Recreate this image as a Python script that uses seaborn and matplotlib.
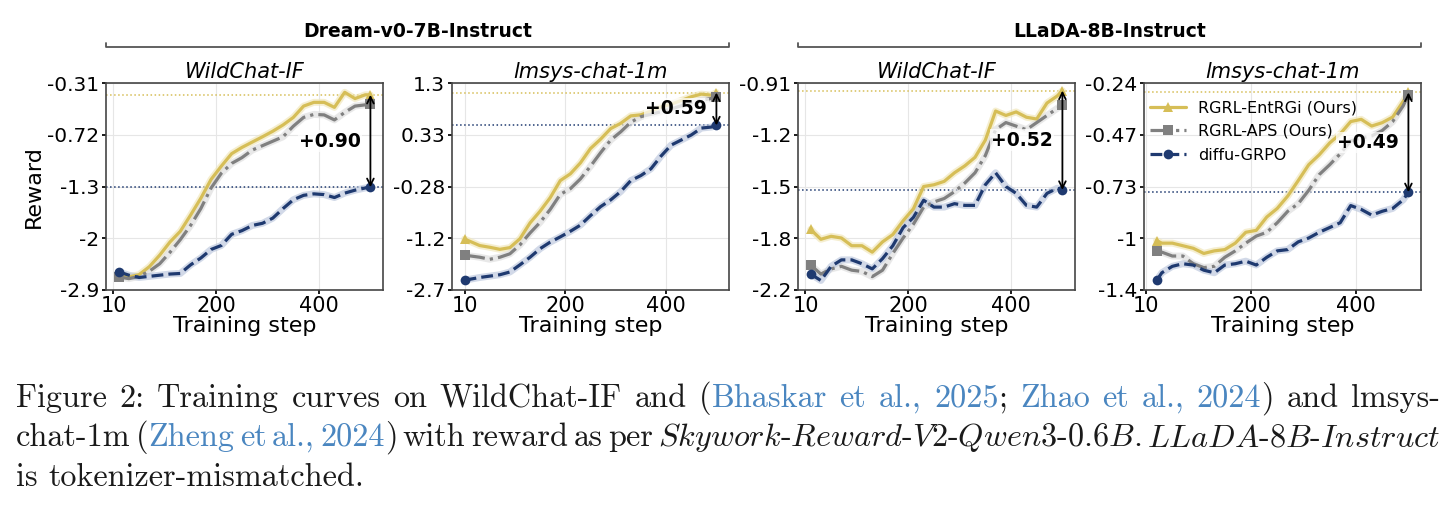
import numpy as np
import seaborn as sns
import matplotlib.pyplot as plt
from matplotlib.lines import Line2D

# ---- data (reward values) ----
GROUPS = ['Dream-v0-7B-Instruct', 'LLaDA-8B-Instruct']
DATASETS = ['WildChat-IF', 'lmsys-chat-1m', 'WildChat-IF', 'lmsys-chat-1m']
METHODS = ['RGRL-EntRGi (Ours)', 'RGRL-APS (Ours)', 'diffu-GRPO']
GAPS = ['+0.90', '+0.59', '+0.52', '+0.49']

START = [10, 0, 10, 20]
STEPS = [30, 50, 70, 90, 110, 130, 150, 170, 190, 210, 230, 250, 270, 290,
         310, 330, 350, 370, 390, 410, 430, 450, 470, 490, 500]

YTICKS = [
    [-0.31, -0.72, -1.3, -2, -2.9],
    [1.3, 0.33, -0.28, -1.2, -2.7],
    [-0.91, -1.2, -1.5, -1.8, -2.2],
    [-0.24, -0.47, -0.73, -1, -1.4],
]

ENTRGI = [
    [-2.62, -2.68, -2.64, -2.50, -2.30, -2.07, -1.91, -1.69, -1.46, -1.22, -1.07, -0.93, -0.86,
     -0.80, -0.74, -0.69, -0.64, -0.58, -0.49, -0.46, -0.46, -0.50, -0.38, -0.43, -0.40, -0.40],
    [-1.23, -1.42, -1.47, -1.53, -1.48, -1.22, -0.93, -0.72, -0.48, -0.21, -0.13, 0.0, 0.17,
     0.28, 0.45, 0.55, 0.69, 0.71, 0.78, 0.86, 0.91, 0.98, 1.05, 1.10, 1.08, 1.13],
    [-1.75, -1.81, -1.79, -1.80, -1.86, -1.86, -1.91, -1.83, -1.78, -1.70, -1.63, -1.50, -1.49,
     -1.47, -1.42, -1.38, -1.33, -1.23, -1.065, -1.09, -1.07, -1.10, -1.11, -1.02, -0.98, -0.95],
    [-1.02, -1.04, -1.04, -1.06, -1.08, -1.12, -1.10, -1.09, -1.04, -0.97, -0.96, -0.89, -0.845,
     -0.78, -0.70, -0.62, -0.57, -0.51, -0.465, -0.41, -0.40, -0.43, -0.415, -0.39, -0.32, -0.28],
]
APS = [
    [-2.68, -2.71, -2.67, -2.58, -2.45, -2.25, -2.03, -1.83, -1.60, -1.32, -1.15, -1.04, -0.975,
     -0.89, -0.84, -0.79, -0.74, -0.65, -0.58, -0.556, -0.56, -0.60, -0.54, -0.49, -0.48, -0.47],
    [-1.70, -1.76, -1.82, -1.76, -1.66, -1.40, -1.11, -0.92, -0.69, -0.42, -0.32, -0.19, -0.04,
     0.12, 0.27, 0.39, 0.57, 0.675, 0.72, 0.77, 0.82, 0.88, 0.94, 0.98, 1.02, 1.04],
    [-2.01, -2.08, -2.04, -2.02, -2.05, -2.06, -2.10, -2.05, -1.92, -1.80, -1.72, -1.62, -1.59,
     -1.57, -1.53, -1.48, -1.42, -1.32, -1.17, -1.13, -1.15, -1.17, -1.13, -1.09, -1.05, -1.03],
    [-1.10, -1.11, -1.14, -1.14, -1.20, -1.23, -1.22, -1.15, -1.10, -1.04, -0.99, -0.97, -0.92,
     -0.86, -0.82, -0.75, -0.67, -0.62, -0.565, -0.50, -0.485, -0.475, -0.45, -0.41, -0.34, -0.29],
]
GRPO = [
    [-2.59, -2.65, -2.69, -2.67, -2.65, -2.63, -2.62, -2.47, -2.35, -2.20, -2.13, -1.95, -1.90,
     -1.83, -1.80, -1.73, -1.60, -1.48, -1.42, -1.40, -1.41, -1.45, -1.39, -1.35, -1.32, -1.31],
    [-2.43, -2.35, -2.31, -2.27, -2.19, -1.98, -1.76, -1.51, -1.32, -1.18, -1.08, -0.97, -0.80,
     -0.64, -0.52, -0.37, -0.21, -0.15, -0.07, 0.08, 0.21, 0.27, 0.33, 0.46, 0.48, 0.51],
    [-2.08, -2.13, -2.02, -1.97, -1.97, -2.00, -2.04, -1.96, -1.86, -1.74, -1.68, -1.58, -1.62,
     -1.62, -1.60, -1.61, -1.61, -1.49, -1.42, -1.50, -1.54, -1.61, -1.62, -1.54, -1.51, -1.52],
    [-1.33, -1.27, -1.22, -1.20, -1.21, -1.25, -1.27, -1.21, -1.20, -1.18, -1.21, -1.15, -1.10,
     -1.09, -1.03, -1.00, -0.97, -0.945, -0.92, -0.83, -0.85, -0.88, -0.86, -0.845, -0.80, -0.76],
]

BLUE_CITE = '#4A86C0'
CAPTION = [
    [[('Figure', 'k')], [('2:', 'k')], [('Training', 'k')], [('curves', 'k')], [('on', 'k')],
     [('WildChat-IF', 'k')], [('and', 'k')], [('(', 'k'), ('Bhaskar', BLUE_CITE)],
     [('et', BLUE_CITE)], [('al.,', BLUE_CITE)], [('2025', BLUE_CITE), (';', 'k')],
     [('Zhao', BLUE_CITE)], [('et', BLUE_CITE)], [('al.,', BLUE_CITE)],
     [('2024', BLUE_CITE), (')', 'k')], [('and', 'k')], [('lmsys-', 'k')]],
    [[('chat-1m', 'k')], [('(', 'k'), ('Zheng', BLUE_CITE)], [('et', BLUE_CITE)],
     [('al.,', BLUE_CITE)], [('2024', BLUE_CITE), (')', 'k')], [('with', 'k')], [('reward', 'k')],
     [('as', 'k')], [('per', 'k')],
     [(r'$\mathit{Skywork}$-$\mathit{Reward}$-$\mathit{V2}$-$\mathit{Qwen3}$-$\mathit{0.6B.}$', 'k')],
     [(r'$\mathit{LLaDA}$-$\mathit{8B}$-$\mathit{Instruct}$', 'k')]],
    [[('is', 'k')], [('tokenizer-mismatched.', 'k')]],
]

COLORS = ['#D6BE57', '#808080', '#1F3A70']
BANDS = ['#F0E6B8', '#DDDDDD', '#BAC6DC']
STYLES = ['-', '-.', '--']
MARKERS = ['^', 's', 'o']

sns.set_theme(style='whitegrid', rc={
    'axes.edgecolor': '#454545', 'axes.linewidth': 1.2, 'grid.color': '#E6E6E6',
    'grid.linewidth': 0.8, 'xtick.bottom': True, 'ytick.left': True,
    'xtick.major.size': 3, 'ytick.major.size': 3, 'xtick.color': 'black',
    'ytick.color': 'black', 'xtick.major.pad': 2, 'ytick.major.pad': 2,
    'text.color': 'black', 'axes.labelcolor': 'black',
})
plt.rcParams['font.family'] = ['DejaVu Sans']
plt.rcParams['mathtext.fontset'] = 'cm'

W, H = 1449, 511
fig = plt.figure(figsize=(W / 100, H / 100), dpi=100)
fig.patch.set_facecolor('white')


def piecewise_scale(ticks):
    t = np.array(sorted(ticks), dtype=float)
    p = np.arange(len(t), dtype=float)

    def fwd(v):
        v = np.asarray(v, dtype=float)
        out = np.interp(v, t, p)
        out = np.where(v < t[0], (v - t[0]) / (t[1] - t[0]), out)
        return np.where(v > t[-1], p[-1] + (v - t[-1]) / (t[-1] - t[-2]), out)

    def inv(y):
        y = np.asarray(y, dtype=float)
        out = np.interp(y, p, t)
        out = np.where(y < 0, t[0] + y * (t[1] - t[0]), out)
        return np.where(y > p[-1], t[-1] + (y - p[-1]) * (t[-1] - t[-2]), out)

    return fwd, inv


lefts = [106, 452, 798, 1144]
ax_w, ax_top, ax_bot = 277, 83.5, 289.5
axes = []
for k in range(4):
    ax = fig.add_axes([lefts[k] / W, (H - ax_bot) / H, ax_w / W, (ax_bot - ax_top) / H])
    axes.append(ax)
    fwd, inv = piecewise_scale(YTICKS[k])
    ax.set_yscale('function', functions=(fwd, inv))
    x = [START[k]] + STEPS
    series = [ENTRGI[k], APS[k], GRPO[k]]
    for i, y in enumerate(series):
        sns.lineplot(x=x, y=y, ax=ax, color=BANDS[i], lw=5, alpha=0.65,
                     errorbar=None, legend=False, zorder=2)
    for i, y in enumerate(series):
        sns.lineplot(x=x, y=y, ax=ax, color=COLORS[i], lw=2.3, ls=STYLES[i],
                     marker=MARKERS[i], markevery=[0, -1], markersize=7,
                     markeredgewidth=0, errorbar=None, legend=False, zorder=3)
    top, low = ENTRGI[k][-1], GRPO[k][-1]
    ax.axhline(top, color=COLORS[0], ls=':', lw=1.1, zorder=1)
    ax.axhline(low, color=COLORS[2], ls=':', lw=1.1, zorder=1)
    ax.annotate('', xy=(500, top), xytext=(500, low),
                arrowprops=dict(arrowstyle='<->', color='black', lw=1.3,
                                shrinkA=0, shrinkB=0), zorder=5)
    ymid = inv((fwd(top) + fwd(low)) / 2)
    ax.text(482, float(ymid), GAPS[k], ha='right', va='center', fontsize=13.5,
            fontweight='bold', zorder=6,
            bbox=dict(facecolor='white', alpha=0.75, edgecolor='none', pad=1))

    ax.set_ylim(min(YTICKS[k]), max(YTICKS[k]))
    ax.set_yticks(YTICKS[k])
    ax.set_yticklabels([f'{v:g}' for v in YTICKS[k]], fontsize=14.5)
    ax.minorticks_off()
    ax.set_xticks([0, 200, 400])
    ax.set_xticklabels(['10', '200', '400'], fontsize=15)
    ax.set_xlabel('Training step', fontsize=16, labelpad=0)
    ax.set_ylabel('Reward' if k == 0 else '', fontsize=16, labelpad=2)
    ax.set_title(DATASETS[k], fontsize=15, fontstyle='italic', pad=4)
    ax.grid(True)

handles = [Line2D([], [], color=COLORS[i], lw=2.3, ls=STYLES[i], marker=MARKERS[i],
                  markersize=7, markeredgewidth=0) for i in range(3)]
axes[3].legend(handles, METHODS, loc='upper left', bbox_to_anchor=(0.0, 0.95),
               borderaxespad=0, frameon=False, fontsize=11.5, handlelength=2.2,
               handletextpad=0.8, labelspacing=0.55)

# model group headers with brackets
spans = [(106, 729), (798, 1421)]
for name, (x0, x1) in zip(GROUPS, spans):
    yl = (H - 47) / H
    fig.add_artist(Line2D([x0 / W, x0 / W, x1 / W, x1 / W],
                          [yl + 4 / H, yl, yl, yl + 4 / H],
                          transform=fig.transFigure, color='#555555', lw=1.3))
    fig.text((x0 + x1) / 2 / W, (H - 31) / H, name, ha='center', va='center',
             fontsize=13.5, fontweight='bold')

# caption
renderer = fig.canvas.get_renderer()
fs = 23.2
baselines = [407, 446, 485.5]
for li, words in enumerate(CAPTION):
    placed, widths = [], []
    for word in words:
        parts = []
        for txt, col in word:
            t = fig.text(0, 0, txt, fontsize=fs, family='cmr10', color=col, va='baseline')
            parts.append((t, t.get_window_extent(renderer=renderer).width))
        placed.append(parts)
        widths.append(sum(w for _, w in parts))
    if li < len(CAPTION) - 1:
        gap = (1440 - 16 - sum(widths)) / (len(words) - 1)
    else:
        gap = fs * 100 / 72 * 0.333
    xpos = 16
    for parts in placed:
        for t, w in parts:
            t.set_position((xpos / W, (H - baselines[li]) / H))
            xpos += w
        xpos += gap

fig.savefig('out.png', dpi=100, facecolor='white')
